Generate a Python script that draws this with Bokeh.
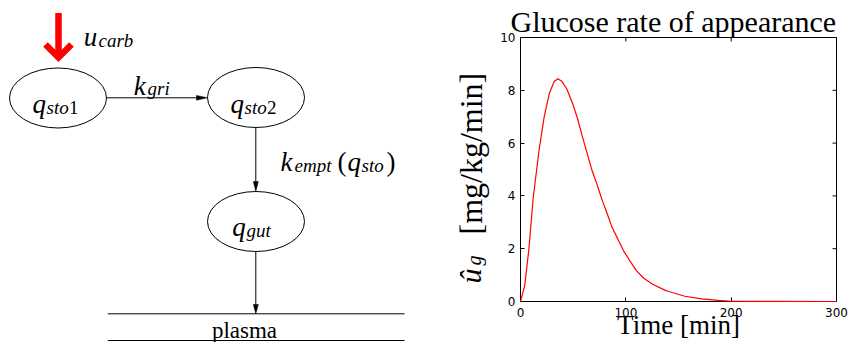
import math
from bokeh.plotting import figure
from bokeh.layouts import row
from bokeh.models import Range1d, FixedTicker
from bokeh.core.properties import value
from bokeh.embed import file_html
from bokeh.resources import INLINE

# ---------------- data ----------------
time_min = [0, 4, 8, 12, 17.5, 22.5, 27.5, 32, 35.5, 39.5, 44, 49, 54, 58.5, 63,
            68, 72.5, 77.5, 82, 87, 92, 98, 104, 110, 117, 125, 137, 140, 156,
            172, 188, 200, 300]
rate_ug = [0, 0.6, 2.0, 3.9, 5.7, 7.0, 7.9, 8.33, 8.44, 8.33, 8.05, 7.55, 6.95,
           6.28, 5.65, 4.95, 4.45, 3.84, 3.36, 2.8, 2.4, 1.91, 1.53, 1.17, 0.88,
           0.66, 0.43, 0.39, 0.20, 0.10, 0.04, 0.01, 0.0]
x_ticks = [0, 100, 200, 300]
y_ticks = [0, 2, 4, 6, 8, 10]

plot_title = "Glucose rate of appearance"
x_label = "Time [min]"
y_label_main = "\u00fb"
y_label_sub = "g"
y_label_unit = "[mg/kg/min]"

# diagram labels
node_main = ["q", "q", "q"]
node_sub = ["sto", "sto", "gut"]
node_idx = ["1", "2"]
input_main, input_sub = "u", "carb"
flow1_main, flow1_sub = "k", "gri"
flow2_main, flow2_sub = "k", "empt"
flow2_arg_main, flow2_arg_sub = "q", "sto"
sink_label = "plasma"

SERIF = "Liberation Serif"


def no_align(fig):
    try:
        fig.frame_align = False
    except Exception:
        pass


# ---------------- left: compartment diagram (+ y label of the chart) ----------------
DW = 497
d = figure(width=DW, height=342, x_range=Range1d(0, DW), y_range=Range1d(342, 0),
           output_backend="svg", toolbar_location=None, min_border=0,
           x_axis_location=None, y_axis_location=None)
no_align(d)
d.grid.visible = False
d.outline_line_color = None
d.background_fill_color = "white"
d.border_fill_color = "white"

# red input arrow
d.line([58, 58], [12.5, 56], line_color="#ff0000", line_width=6.5, line_cap="butt")
d.line([45, 58, 71], [44, 57, 44], line_color="#ff0000", line_width=6.5,
       line_join="miter", line_cap="butt")

# ellipses
d.ellipse(x=[57.5, 255.5, 255.5], y=[97.5, 97, 221], width=97, height=60,
          fill_color="white", line_color="black", line_width=1)

# arrow shafts
d.segment(x0=[106, 255.3, 255.3], y0=[97.3, 127.3, 250.7],
          x1=[197, 255.3, 255.3], y1=[97.3, 182, 305],
          line_color="black", line_width=1)
# arrow heads
d.patches(xs=[[207, 196, 196], [255.3, 252.8, 257.8], [255.3, 252.8, 257.8]],
          ys=[[97.3, 94.9, 99.7], [191, 181, 181], [313.3, 304, 304]],
          fill_color="black", line_color="black", line_width=0.5)
# plasma lines
d.segment(x0=[107.3, 107.3], y0=[313.3, 340], x1=[404, 404], y1=[313.3, 340],
          line_color="black", line_width=1)

# italic main symbols
d.text(x=[32, 230, 231.7, 83.3, 133.3, 280, 347],
       y=[103.3, 103.3, 226.7, 36.7, 85, 161.7, 161.7],
       text=node_main + [input_main, flow1_main, flow2_main, flow2_arg_main],
       text_font=value(SERIF), text_font_style="italic", text_font_size="27px",
       text_align="left", text_baseline="alphabetic", text_color="black")
# italic subscripts
d.text(x=[46, 244, 246, 98, 147, 294, 361],
       y=[106.5, 106.5, 229.9, 40, 88.3, 165, 165],
       text=node_sub + [input_sub, flow1_sub, flow2_sub, flow2_arg_sub],
       text_font=value(SERIF), text_font_style="italic", text_font_size="19px",
       text_align="left", text_baseline="alphabetic", text_color="black")
# upright subscript digits
d.text(x=[68.5, 266.5], y=[106.5, 106.5], text=node_idx,
       text_font=value(SERIF), text_font_size="19px",
       text_align="left", text_baseline="alphabetic", text_color="black")
# parentheses
d.text(x=[337, 386], y=[161.7, 161.7], text=["(", ")"],
       text_font=value(SERIF), text_font_size="27px",
       text_align="left", text_baseline="alphabetic", text_color="black")
# plasma
d.text(x=[244], y=[330], text=[sink_label], text_font=value(SERIF),
       text_font_size="23px", text_align="center", text_baseline="alphabetic",
       text_color="black")

# y-axis label of the chart (rotated, reading upwards)
d.text(x=[470], y=[283], text=[y_label_main], angle=math.pi / 2,
       text_font=value(SERIF), text_font_style="italic", text_font_size="30px",
       text_align="left", text_baseline="alphabetic", text_color="black")
d.text(x=[473], y=[265], text=[y_label_sub], angle=math.pi / 2,
       text_font=value(SERIF), text_font_style="italic", text_font_size="20px",
       text_align="left", text_baseline="alphabetic", text_color="black")
d.text(x=[470], y=[234], text=[y_label_unit], angle=math.pi / 2,
       text_font=value(SERIF), text_font_size="32px",
       text_align="left", text_baseline="alphabetic", text_color="black")

# ---------------- right: rate of appearance plot ----------------
p = figure(width=852 - DW, height=342, x_range=Range1d(0, 300), y_range=Range1d(0, 10),
           output_backend="svg", toolbar_location=None,
           min_border_left=518 - DW, min_border_right=16, min_border_top=37,
           min_border_bottom=41)
no_align(p)
p.grid.visible = False
p.outline_line_color = "black"
p.outline_line_width = 1
p.background_fill_color = "white"
p.border_fill_color = "white"

p.title.text = plot_title
p.title.text_font = SERIF
p.title.text_font_size = "30px"
p.title.text_font_style = "normal"
p.title.text_color = "black"
p.title.align = "left"
p.title.offset = -10
p.title.standoff = 0

for ax, ticks in ((p.xaxis[0], x_ticks), (p.yaxis[0], y_ticks)):
    ax.ticker = FixedTicker(ticks=ticks)
    ax.major_label_text_font = "DejaVu Sans"
    ax.major_label_text_font_size = "12px"
    ax.major_label_text_color = "black"
    ax.major_tick_in = 4
    ax.major_tick_out = 0
    ax.minor_tick_line_color = None
    ax.axis_line_color = "black"
    ax.major_tick_line_color = "black"
p.xaxis[0].major_label_standoff = 6
p.yaxis[0].major_label_standoff = 5

p.xaxis[0].axis_label = x_label
p.xaxis[0].axis_label_text_font = SERIF
p.xaxis[0].axis_label_text_font_size = "27px"
p.xaxis[0].axis_label_text_font_style = "normal"
p.xaxis[0].axis_label_text_color = "black"
p.xaxis[0].axis_label_standoff = -10

# inward tick marks on the top and right edges of the box
p.ray(x=[300] * len(y_ticks), y=y_ticks, length=4, length_units="screen",
      angle=math.pi, line_color="black", line_width=1)
p.ray(x=x_ticks, y=[10] * len(x_ticks), length=4, length_units="screen",
      angle=-math.pi / 2, line_color="black", line_width=1)

r = p.line(time_min, rate_ug, line_color="#ff0000", line_width=1.2)
r.level = "overlay"

layout = row(d, p)
open("out.html", "w").write(file_html(layout, INLINE))
